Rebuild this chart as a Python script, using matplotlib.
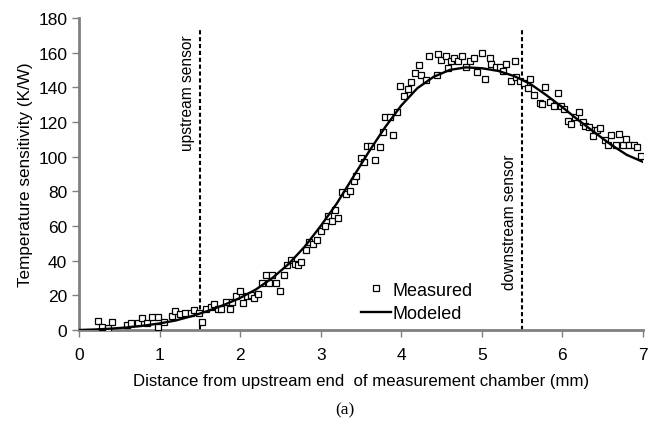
import matplotlib
matplotlib.use("Agg")
import matplotlib.pyplot as plt

# Measured data (distance mm, sensitivity K/W)
meas_x = [0.23, 0.28, 0.36, 0.41, 0.60, 0.65, 0.73, 0.78, 0.84, 0.91, 0.98, 0.98, 1.06, 1.15,
          1.19, 1.25, 1.31, 1.39, 1.43, 1.49, 1.53, 1.58, 1.64, 1.68, 1.73,
          1.76, 1.82, 1.87, 1.90, 1.95, 2.00, 2.04, 2.09, 2.14, 2.17, 2.22, 2.27, 2.32, 2.36,
          2.40, 2.45, 2.49, 2.55, 2.58, 2.63, 2.68, 2.72, 2.76, 2.82, 2.85, 2.91, 2.95, 3.00,
          3.05, 3.09, 3.14, 3.18, 3.21, 3.27, 3.32, 3.37, 3.41, 3.44, 3.50, 3.54, 3.58, 3.63,
          3.68, 3.73, 3.77, 3.80, 3.86, 3.90, 3.95, 3.99, 4.04, 4.08, 4.12, 4.17, 4.22, 4.25,
          4.31, 4.35, 4.44, 4.45, 4.49, 4.55, 4.58, 4.62, 4.66, 4.71, 4.76, 4.80, 4.85, 4.90,
          4.94, 5.00, 5.04, 5.10, 5.12, 5.17, 5.22, 5.26, 5.30, 5.36, 5.41, 5.43, 5.48, 5.52,
          5.57, 5.60, 5.65, 5.72, 5.75, 5.79, 5.85, 5.89, 5.94, 5.98, 6.02, 6.07, 6.11, 6.16,
          6.21, 6.25, 6.28, 6.33, 6.38, 6.40, 6.43, 6.47, 6.53, 6.57, 6.60, 6.67, 6.70, 6.75,
          6.79, 6.83, 6.89, 6.93, 6.98]
meas_y = [5.0, 1.7, 1.0, 4.6, 3.0, 4.0, 4.0, 7.0, 4.0, 7.5, 7.5, 1.7, 4.6, 8.0,
          11.0, 9.0, 10.0, 10.0, 11.5, 10.0, 4.6, 12.0, 13.0, 15.0, 12.0,
          12.0, 16.0, 12.0, 16.0, 19.6, 22.5, 15.6, 19.6, 20.0, 18.5, 21.0, 27.0, 32.0, 27.0,
          31.7, 27.0, 22.5, 31.7, 37.5, 40.4, 38.0, 37.5, 39.0, 46.0, 50.7, 49.6, 52.0, 57.0,
          60.0, 66.0, 63.0, 69.0, 64.6, 79.6, 78.5, 80.0, 86.0, 89.0, 99.0, 97.0, 106.0, 106.0,
          98.0, 105.6, 114.0, 123.0, 123.0, 112.5, 126.0, 141.0, 135.0, 139.0, 143.0, 148.0, 153.0, 147.0,
          144.0, 158.0, 147.0, 159.0, 156.0, 158.0, 151.0, 155.0, 157.0, 155.0, 158.0, 152.0, 155.0, 157.0,
          149.0, 160.0, 145.0, 157.0, 153.5, 152.0, 152.0, 149.5, 153.5, 143.7, 155.0, 146.0, 143.7, 142.5,
          139.6, 145.0, 135.6, 131.0, 130.4, 140.0, 131.5, 129.0, 137.0, 129.0, 127.5, 120.6, 118.9, 123.0,
          126.0, 120.0, 117.7, 117.0, 112.0, 115.4, 115.4, 116.6, 109.6, 106.8, 112.5, 106.8, 113.0, 106.8,
          110.0, 106.8, 106.8, 105.6, 100.4]

# Modeled curve
model_x = [0.0, 0.2, 0.4, 0.6, 0.8, 1.0, 1.2, 1.4, 1.6, 1.8, 2.0, 2.2, 2.4, 2.6, 2.8, 3.0,
           3.2, 3.4, 3.6, 3.8, 4.0, 4.2, 4.4, 4.6, 4.8, 5.0, 5.2, 5.4, 5.6, 5.8, 6.0, 6.2,
           6.4, 6.6, 6.8, 7.0]
model_y = [0.0, 0.3, 0.8, 1.5, 2.5, 3.8, 5.5, 8.0, 11.0, 14.5, 18.5, 23.5, 30.0, 38.0, 48.0, 60.0,
           73.0, 88.0, 103.0, 117.0, 129.5, 139.5, 146.0, 150.0, 151.5, 151.0, 149.5, 146.5, 142.0, 135.5, 128.5, 121.0,
           114.0, 107.0, 101.0, 97.0]

sensor_x = [1.5, 5.5]
sensor_labels = ["upstream sensor", "downstream sensor"]
xticks = [0, 1, 2, 3, 4, 5, 6, 7]
yticks = [0, 20, 40, 60, 80, 100, 120, 140, 160, 180]

plt.rcParams['font.family'] = ['Liberation Sans', 'DejaVu Sans']

fig = plt.figure(figsize=(6.49, 4.31), dpi=100)
ax = fig.add_axes([0.1217, 0.232, 0.8690, 0.724])

ax.plot(meas_x, meas_y, linestyle='none', marker='s', markersize=5, markerfacecolor='white',
        markeredgecolor='black', markeredgewidth=0.9, label='Measured', zorder=3)
ax.plot(model_x, model_y, color='black', linewidth=1.7, label='Modeled', zorder=4)

for sx in sensor_x:
    ax.plot([sx, sx], [0, 173], color='black', linestyle=(0, (2, 1.3)), linewidth=1.5, zorder=2)

ax.text(1.35, 137, sensor_labels[0], rotation=90, ha='center', va='center', fontsize=11.2)
ax.text(5.34, 63, sensor_labels[1], rotation=90, ha='center', va='center', fontsize=11.2)

ax.set_xlim(0, 7)
ax.set_ylim(0, 180)
ax.set_xticks(xticks)
ax.set_yticks(yticks)
ax.tick_params(axis='both', colors='#808080', labelcolor='black', labelsize=12.5, length=5, width=1, direction='out')
ax.tick_params(axis='x', pad=7)
for s in ['top', 'right']:
    ax.spines[s].set_visible(False)
for s in ['left', 'bottom']:
    ax.spines[s].set_color('#808080')
    ax.spines[s].set_linewidth(2)

ax.set_xlabel('Distance from upstream end  of measurement chamber (mm)', fontsize=12.1, labelpad=8)
ax.set_ylabel('Temperature sensitivity (K/W)', fontsize=12.3, labelpad=4)

leg = ax.legend(loc='lower left', bbox_to_anchor=(0.50, 0.026), frameon=False, fontsize=13,
                handlelength=1.65, handletextpad=0.1, markerscale=0.8, borderpad=0.0,
                borderaxespad=0.0, labelspacing=0.35)

fig.text(0.532, 0.048, '(a)', family='Liberation Serif', fontsize=12.5, ha='center', va='center')

fig.savefig('out.png', dpi=100)
